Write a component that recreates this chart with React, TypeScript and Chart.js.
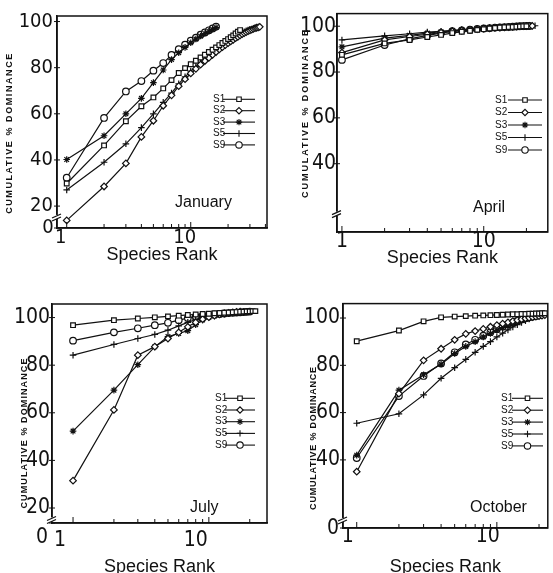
import React, { useEffect, useRef } from "react";
import { Chart, registerables } from "chart.js";
import { drawPoint } from "chart.js/helpers";

Chart.register(...registerables);

const FONT = "'Liberation Sans', 'DejaVu Sans', Arial, sans-serif";
const NUM_FONT = "'Liberation Sans Narrow', 'DejaVu Sans Condensed', 'Liberation Sans', Arial, sans-serif";
const INK = "#111";

const seriesNames = ["S1", "S2", "S3", "S5", "S9"];
const pointStyles = ["rect", "rectRot", "star", "cross", "circle"];

const xTickValues = [1, 10];
const xTickLabels = ["1", "10"];
const xMinorTicks = [1, 2, 3, 4, 5, 6, 7, 8, 9, 10, 20, 30, 40];
const xTitle = "Species Rank";
const yTitle = "CUMULATIVE % DOMINANCE";

// January (values by species rank 1, 2, 3, ...)
const janS1 = [29.8, 46.3, 56.8, 63.3, 67.1, 71.0, 74.6, 77.7, 79.8, 81.5, 83.0, 84.4, 85.6, 86.8, 87.8, 88.8, 89.8, 90.7, 91.6, 92.4, 93.2, 94.0, 94.8, 95.6, 96.3];
const janS2 = [13.8, 28.5, 38.5, 50.0, 57.0, 63.5, 68.0, 72.0, 75.0, 77.5, 79.5, 81.3, 82.9, 84.3, 85.6, 86.8, 87.9, 88.9, 89.8, 90.6, 91.4, 92.1, 92.8, 93.4, 94.0, 94.5, 95.0, 95.4, 95.8, 96.2, 96.5, 96.8, 97.1, 97.3, 97.5, 97.7];
const janS3 = [40.2, 50.5, 60.0, 66.7, 73.5, 79.0, 83.5, 86.5, 88.8, 90.8, 92.4, 93.7, 94.8, 95.8, 96.7, 97.4];
const janS5 = [27.0, 39.0, 47.0, 54.0, 60.0, 65.0, 69.0, 73.0, 76.0, 78.5, 80.5, 82.3, 83.9, 85.3, 86.6, 87.8, 88.9, 89.9, 90.8, 91.6, 92.3, 93.0, 93.6, 94.2, 94.7, 95.2, 95.6, 96.0, 96.3, 96.6];
const janS9 = [32.3, 58.2, 69.7, 74.2, 78.7, 82.0, 85.5, 88.0, 90.0, 91.7, 93.0, 94.3, 95.3, 96.2, 97.0, 97.8];

// April
const aprS1 = [87.5, 92.5, 94.0, 95.3, 96.2, 97.0, 97.6, 98.0, 98.4, 98.7, 99.0, 99.2, 99.4, 99.5, 99.6, 99.7, 99.8, 99.9, 100.0, 100.0];
const aprS2 = [88.5, 94.0, 95.5, 96.5, 97.2, 97.7, 98.1, 98.4, 98.7, 98.9, 99.1, 99.3, 99.4, 99.5, 99.6, 99.7, 99.8, 99.9, 100.0, 100.0, 100.1, 100.1];
const aprS3 = [91.0, 94.8, 96.0, 97.0, 97.6, 98.0, 98.3, 98.6, 98.8, 99.0, 99.2, 99.3, 99.4, 99.5, 99.6, 99.7, 99.8, 99.9, 100.0];
const aprS5 = [94.0, 95.8, 96.7, 97.4, 97.8, 98.2, 98.5, 98.7, 98.9, 99.1, 99.2, 99.3, 99.4, 99.5, 99.6, 99.7, 99.8, 99.9, 100.0, 100.0, 100.1, 100.1, 100.2];
const aprS9 = [85.3, 91.8, 94.5, 96.0, 97.0, 97.8, 98.2, 98.5, 98.8, 99.0, 99.2, 99.4, 99.5, 99.6, 99.7, 99.8, 99.9, 100.0, 100.0, 100.1, 100.1];

// July
const julS1 = [96.8, 98.9, 99.6, 100.1, 100.5, 100.8, 101.1, 101.3, 101.5, 101.6, 101.8, 101.9, 102.0, 102.1, 102.2, 102.3, 102.4, 102.5, 102.6, 102.6, 102.7, 102.7];
const julS2 = [31.5, 61.2, 84.2, 87.8, 91.2, 93.8, 96.1, 98.0, 99.3, 100.2, 100.8, 101.3, 101.7, 102.0, 102.2, 102.4, 102.5];
const julS3 = [52.3, 69.5, 80.2, 87.7, 92.0, 93.3, 94.5, 97.0, 99.0, 100.0, 100.7, 101.2, 101.6, 101.9, 102.1, 102.3, 102.4, 102.5];
const julS5 = [84.2, 88.7, 91.2, 92.9, 94.7, 96.5, 98.0, 99.2, 100.0, 100.6, 101.0, 101.4, 101.6, 101.8, 102.0, 102.1, 102.2, 102.3, 102.4, 102.5];
const julS9 = [90.3, 93.8, 95.5, 96.8, 97.8, 98.9, 99.8, 100.4, 100.8, 101.1, 101.3, 101.5, 101.7, 101.9, 102.0, 102.1, 102.2, 102.3, 102.4, 102.5];

// October
const octS1 = [90.2, 94.7, 98.6, 100.3, 100.6, 100.8, 101.0, 101.1, 101.2, 101.3, 101.4, 101.5, 101.6, 101.6, 101.7, 101.7, 101.8, 101.8, 101.9, 101.9, 102.0, 102.0];
const octS2 = [35.0, 68.0, 82.1, 87.0, 90.8, 93.3, 94.5, 95.4, 96.3, 97.0, 97.6, 98.2, 98.7, 99.1, 99.5, 99.8, 100.1, 100.4, 100.6, 100.8, 101.0, 101.2];
const octS3 = [42.0, 69.5, 76.0, 80.5, 85.0, 88.0, 90.0, 92.0, 93.5, 94.8, 96.0, 97.0, 97.8, 98.5, 99.1, 99.6, 100.0, 100.4, 100.7, 101.0, 101.3];
const octS5 = [55.5, 59.5, 67.5, 74.5, 79.0, 82.5, 85.5, 88.0, 90.0, 92.0, 93.6, 95.0, 96.2, 97.2, 98.1, 98.9, 99.6, 100.2, 100.7, 101.1, 101.5];
const octS9 = [40.8, 67.0, 75.5, 80.8, 85.5, 88.8, 90.8, 92.5, 94.0, 95.3, 96.4, 97.3, 98.1, 98.8, 99.4, 99.9, 100.3, 100.6, 100.9, 101.2];

const yTicksFull = [0, 20, 40, 60, 80, 100];
const yTicksApr = [40, 60, 80, 100];
const yTicksOct = [0, 40, 60, 80, 100];

type Panel = {
  month: string;
  series: number[][];
  yTicks: number[];
  left: number; top: number; w: number; h: number;
  yAxisWidth: number; padTop: number; padRight: number; xAxisHeight: number;
  xMin: number; xMax: number; yMin: number; yMax: number; breakAt: number;
  labelOffset: number; xTickPad: number; xTitlePad: number; yTickPad: number; numSize: number;
  yTitlePos: { x: number; y: number; len: number };
  zeroPos: { x: number; y: number };
  legend: { x: number; y: number; dy: number; x1: number; x2: number };
  monthPos: { x: number; y: number; size: number };
};

const panels: Panel[] = [
  {
    month: "January", series: [janS1, janS2, janS3, janS5, janS9], yTicks: yTicksFull,
    left: 0, top: 0, w: 275, h: 285,
    yAxisWidth: 57, padTop: 12, padRight: 8, xAxisHeight: 57,
    xMin: 0.835, xMax: 41.2, yMin: 10.5, yMax: 102.4, breakAt: 15.3,
    labelOffset: -6, xTickPad: -2, xTitlePad: 19, yTickPad: 4, numSize: 20,
    yTitlePos: { x: 10, y: 133, len: 160 },
    zeroPos: { x: 48, y: 228 },
    legend: { x: 213, y: 99.3, dy: 11.4, x1: 223, x2: 255 },
    monthPos: { x: 175, y: 203, size: 16 },
  },
  {
    month: "April", series: [aprS1, aprS2, aprS3, aprS5, aprS9], yTicks: yTicksApr,
    left: 275, top: 0, w: 278, h: 285,
    yAxisWidth: 62, padTop: 7, padRight: 2, xAxisHeight: 53,
    xMin: 0.923, xMax: 28.3, yMin: 10.2, yMax: 105.5, breakAt: 18.2,
    labelOffset: 0, xTickPad: -3, xTitlePad: 16, yTickPad: 1, numSize: 21,
    yTitlePos: { x: 31, y: 113, len: 168 },
    zeroPos: { x: 0, y: 0 },
    legend: { x: 220, y: 100, dy: 12.5, x1: 233, x2: 267 },
    monthPos: { x: 198, y: 208, size: 16 },
  },
  {
    month: "July", series: [julS1, julS2, julS3, julS5, julS9], yTicks: yTicksFull,
    left: 0, top: 288, w: 275, h: 285,
    yAxisWidth: 52, padTop: 16, padRight: 8, xAxisHeight: 50,
    xMin: 0.74, xMax: 26.8, yMin: 13.7, yMax: 105.7, breakAt: 15.2,
    labelOffset: -13, xTickPad: 5, xTitlePad: -5, yTickPad: 2, numSize: 21,
    yTitlePos: { x: 25, y: 145, len: 150 },
    zeroPos: { x: 42, y: 249.5 },
    legend: { x: 215, y: 110.3, dy: 11.7, x1: 225, x2: 255 },
    monthPos: { x: 190, y: 220, size: 16 },
  },
  {
    month: "October", series: [octS1, octS2, octS3, octS5, octS9], yTicks: yTicksOct,
    left: 275, top: 288, w: 278, h: 285,
    yAxisWidth: 68, padTop: 15, padRight: 1, xAxisHeight: 45,
    xMin: 0.798, xMax: 23.1, yMin: 11.2, yMax: 106.1, breakAt: 14.6,
    labelOffset: -9, xTickPad: -4, xTitlePad: -5, yTickPad: 3, numSize: 21,
    yTitlePos: { x: 39, y: 150, len: 143 },
    zeroPos: { x: 58, y: 241 },
    legend: { x: 226, y: 110.3, dy: 11.9, x1: 237, x2: 268 },
    monthPos: { x: 195, y: 220, size: 16 },
  },
];

function decorPlugin(p: Panel) {
  return {
    id: "decor" + p.month,
    afterDatasetsDraw(chart: any) {
      const { ctx, chartArea: a, scales } = chart;
      const x = scales.x;
      const y = scales.y;
      ctx.save();
      ctx.strokeStyle = INK;
      ctx.lineWidth = 1.5;
      ctx.strokeRect(a.left, a.top, a.right - a.left, a.bottom - a.top);
      ctx.lineWidth = 1;
      const seg = (x1: number, y1: number, x2: number, y2: number) => {
        ctx.beginPath();
        ctx.moveTo(x1, y1);
        ctx.lineTo(x2, y2);
        ctx.stroke();
      };
      for (const v of xMinorTicks) {
        if (v < x.min || v > x.max) continue;
        const px = x.getPixelForValue(v);
        seg(px, a.bottom, px, a.bottom - (v === 1 || v === 10 ? 6 : 4));
      }
      for (const v of p.yTicks) {
        const py = y.getPixelForValue(v === 0 ? p.yMin : v);
        seg(a.left - 3, py, a.left + 3, py);
      }
      // axis break
      const by = y.getPixelForValue(p.breakAt);
      ctx.fillStyle = "#fff";
      ctx.fillRect(a.left - 2, by - 2, 4, 4);
      ctx.lineWidth = 1.2;
      seg(a.left - 5, by + 1, a.left + 4, by - 3);
      seg(a.left - 5, by + 4, a.left + 4, by);
      // zero label of the broken axis
      ctx.fillStyle = INK;
      ctx.textBaseline = "middle";
      ctx.textAlign = "center";
      ctx.font = `${p.numSize}px ${NUM_FONT}`;
      if (p.yTicks.includes(0)) ctx.fillText(String(p.yTicks[0]), p.zeroPos.x, p.zeroPos.y);
      // y axis title
      ctx.save();
      ctx.translate(p.yTitlePos.x, p.yTitlePos.y);
      ctx.rotate(-Math.PI / 2);
      ctx.font = `bold 9px ${FONT}`;
      const wBase = ctx.measureText(yTitle).width;
      const spacing = Math.max(0, (p.yTitlePos.len - wBase) / (yTitle.length - 1));
      (ctx as any).letterSpacing = spacing.toFixed(2) + "px";
      const w2 = ctx.measureText(yTitle).width;
      ctx.textAlign = "left";
      ctx.fillText(yTitle, -w2 / 2, 0);
      (ctx as any).letterSpacing = "0px";
      ctx.restore();
      // legend
      const L = p.legend;
      ctx.font = `10px ${FONT}`;
      ctx.textBaseline = "middle";
      ctx.textAlign = "left";
      seriesNames.forEach((name, i) => {
        const yy = L.y + i * L.dy;
        ctx.fillStyle = INK;
        ctx.fillText(name, L.x, yy);
        ctx.lineWidth = 1.1;
        seg(L.x1, yy, L.x2, yy);
        ctx.fillStyle = "#fff";
        ctx.strokeStyle = INK;
        drawPoint(ctx, { pointStyle: pointStyles[i] as any, radius: 3.2, borderWidth: 1.1, rotation: 0 }, (L.x1 + L.x2) / 2, yy);
      });
      // month
      ctx.fillStyle = INK;
      ctx.font = `${p.monthPos.size}px ${FONT}`;
      ctx.fillText(p.month, p.monthPos.x, p.monthPos.y);
      ctx.restore();
    },
  };
}

function PanelChart({ p }: { p: Panel }) {
  const ref = useRef<HTMLCanvasElement>(null);
  useEffect(() => {
    const datasets = p.series.map((vals, i) => ({
      label: seriesNames[i],
      data: vals.map((v, j) => ({ x: j + 1, y: v })),
      borderColor: INK,
      borderWidth: 1.2,
      backgroundColor: "#fff",
      pointStyle: pointStyles[i],
      pointRadius: 3.3,
      pointBorderWidth: 1.2,
      pointBorderColor: INK,
      pointBackgroundColor: "#fff",
      tension: 0,
    }));
    const chartTicks = p.yTicks.filter((v) => v !== 0);
    const chart = new Chart(ref.current as HTMLCanvasElement, {
      type: "line",
      data: { datasets } as any,
      options: {
        animation: false,
        responsive: false,
        devicePixelRatio: 1,
        layout: { padding: { left: 0, top: p.padTop, right: p.padRight, bottom: 0 } },
        plugins: { legend: { display: false }, tooltip: { enabled: false } },
        scales: {
          x: {
            type: "logarithmic",
            min: p.xMin,
            max: p.xMax,
            grid: { display: false, drawTicks: false, tickLength: 0 },
            border: { display: true, color: INK, width: 1.5 },
            afterBuildTicks: (s: any) => {
              s.ticks = xTickValues.map((v) => ({ value: v }));
            },
            afterFit: (s: any) => {
              s.height = p.xAxisHeight;
            },
            ticks: {
              autoSkip: false,
              maxRotation: 0,
              padding: p.xTickPad,
              labelOffset: p.labelOffset,
              color: INK,
              font: { family: NUM_FONT, size: p.numSize },
              callback: (_v: any, i: number) => xTickLabels[i],
            },
            title: {
              display: true,
              text: xTitle,
              color: INK,
              font: { family: FONT, size: 18 },
              padding: { top: 0, bottom: p.xTitlePad },
            },
          },
          y: {
            type: "linear",
            min: p.yMin,
            max: p.yMax,
            grid: { display: false, drawTicks: false, tickLength: 0 },
            border: { display: true, color: INK, width: 1.5 },
            afterBuildTicks: (s: any) => {
              s.ticks = chartTicks.map((v) => ({ value: v }));
            },
            afterFit: (s: any) => {
              s.width = p.yAxisWidth;
            },
            ticks: {
              autoSkip: false,
              padding: p.yTickPad,
              color: INK,
              font: { family: NUM_FONT, size: p.numSize },
              callback: (_v: any, i: number) => String(chartTicks[i]),
            },
            title: { display: false },
          },
        },
      } as any,
      plugins: [decorPlugin(p)],
    });
    return () => chart.destroy();
  }, [p]);
  return (
    <canvas
      ref={ref}
      width={p.w}
      height={p.h}
      style={{ position: "absolute", left: p.left, top: p.top, width: p.w, height: p.h }}
    />
  );
}

export default function App() {
  return (
    <div style={{ position: "absolute", left: 0, top: 0, width: 553, height: 573, background: "#fff", overflow: "hidden" }}>
      {panels.map((p) => (
        <PanelChart key={p.month} p={p} />
      ))}
    </div>
  );
}
